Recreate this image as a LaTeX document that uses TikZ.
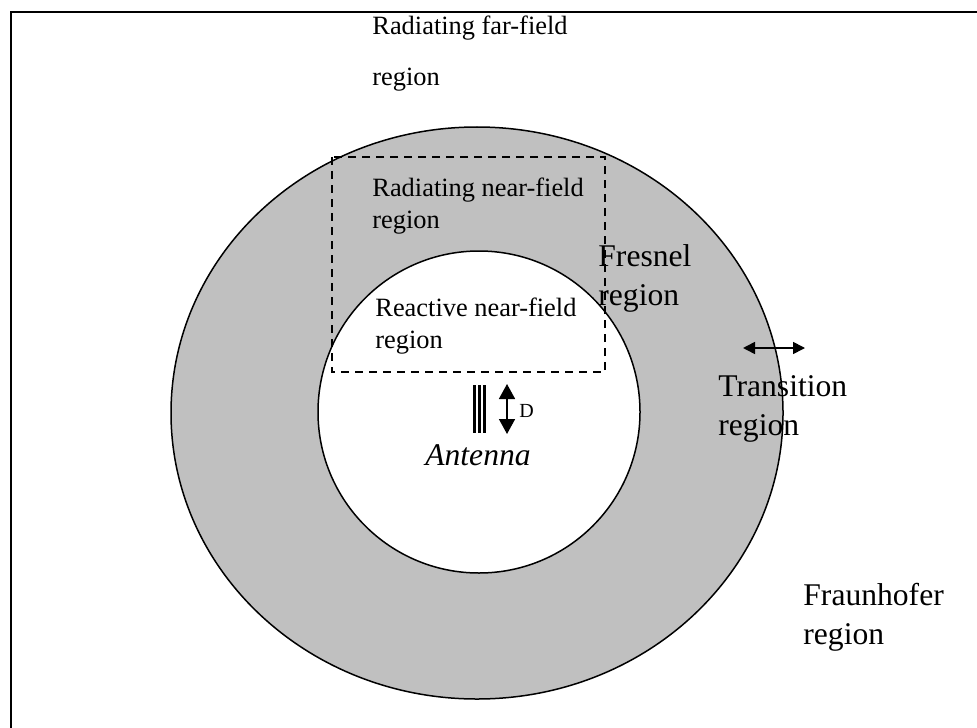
\documentclass[tikz,border=0pt]{standalone}
\usepackage{fontspec}
\setmainfont{Liberation Serif}
\definecolor{RingGray}{RGB}{192, 192, 192}
\usetikzlibrary{arrows.meta, positioning}

\begin{document}
\begin{tikzpicture}[
    x=0.5pt, y=-0.5pt,
    every node/.style={inner sep=0pt, align=left},
    smalltext/.style={anchor=north west, font=\fontsize{13.2}{16}\selectfont},
    bigtext/.style={anchor=north west, font=\fontsize{15.8}{19.5}\selectfont},
    dimarrow/.style={{Triangle[width=8pt, length=7.5pt]}-{Triangle[width=8pt, length=7.5pt]}, line width=0.8pt},
    smallarrow/.style={{Triangle[width=6pt, length=6pt]}-{Triangle[width=6pt, length=6pt]}, line width=0.8pt},
    elem/.style={line width=1.6pt}
]
\useasboundingbox (0,0) rectangle (977,727);
\clip (0,0) rectangle (977,727);
\draw[line width=1.3pt] (11,12) rectangle (1000,760);

% field regions
\draw[fill=RingGray, line width=0.75pt] (477,413) ellipse [x radius=306, y radius=286];
\draw[fill=white, line width=0.75pt] (479,412) circle [radius=161];
\draw[dashed, dash pattern=on 4pt off 3pt, line width=0.8pt] (332,157) rectangle (605,372);

% antenna
\foreach \xx in {474.5, 479.5, 484.5}
  \draw[elem] (\xx,385) -- (\xx,433);
\coordinate (dtop) at (507,384);
\coordinate (dbot) at (507,434);
\draw[dimarrow] (dtop) -- (dbot);
\node[anchor=west, font=\fontsize{10}{11}\selectfont] (dlab) at (519,411) {D};
\node[font=\fontsize{15.8}{19.5}\selectfont\itshape] (ant) at (478,455) {Antenna};

% labels
\node[smalltext] (far) at (372,16) {Radiating far-field\\[9.5pt]region};
\node[smalltext] (radnear) at (372,178) {Radiating near-field\\region};
\node[smalltext] (reactnear) at (375,298) {Reactive near-field\\region};
\node[bigtext] (fresnel) at (598,244) {Fresnel\\region};
\node[bigtext] (trans) at (718,375) {Transition\\region};
\node[bigtext] (fraun) at (803,583) {Fraunhofer\\region};

\coordinate (tleft) at (743,348);
\coordinate (tright) at (805,348);
\draw[smallarrow] (tleft) -- (tright);
\end{tikzpicture}
\end{document}
